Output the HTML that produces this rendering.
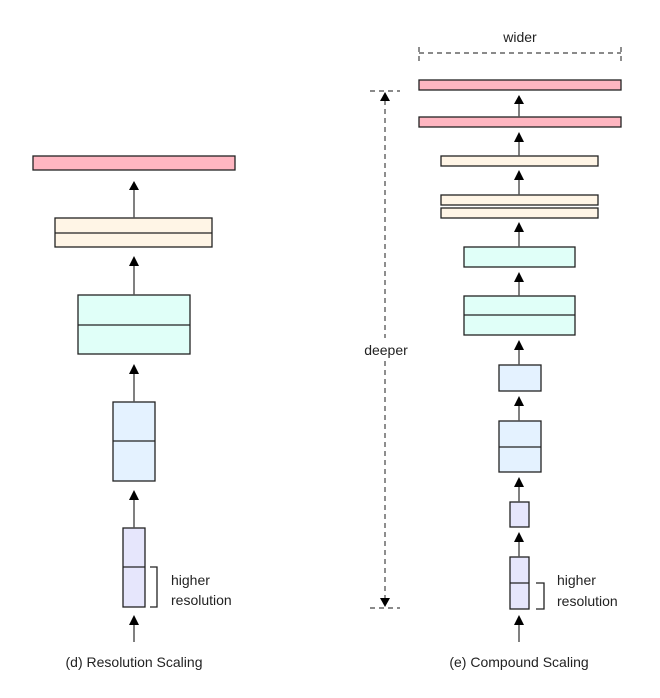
<!DOCTYPE html>
<html><head><meta charset="utf-8"><style>
html,body{margin:0;padding:0;background:#fff;}
svg{display:block;}
text{font-family:"Liberation Sans",sans-serif;fill:#222;}
</style></head><body>
<svg width="660" height="698" viewBox="0 0 660 698" xmlns="http://www.w3.org/2000/svg">
<g stroke="#222" stroke-width="1.3">
<rect x="33" y="156" width="202" height="14" fill="#ffb6c1"/>
<rect x="55" y="218" width="157" height="29" fill="#fff5e6"/>
<line x1="55" y1="233" x2="212" y2="233"/>
<rect x="78" y="295" width="112" height="59" fill="#e0fff8"/>
<line x1="78" y1="325" x2="190" y2="325"/>
<rect x="113" y="402" width="42" height="79" fill="#e4f2ff"/>
<line x1="113" y1="441" x2="155" y2="441"/>
<rect x="123" y="528" width="22" height="79" fill="#e6e6fc"/>
<line x1="123" y1="567" x2="145" y2="567"/>
<path d="M150,567 H157 V607 H150" fill="none"/>
</g>
<g stroke="#555" stroke-width="1.5">
<line x1="134" y1="218" x2="134" y2="188"/>
<line x1="134" y1="295" x2="134" y2="264"/>
<line x1="134" y1="402" x2="134" y2="372"/>
<line x1="134" y1="528" x2="134" y2="498"/>
<line x1="134" y1="642" x2="134" y2="623"/>
</g>
<g fill="#000">
<path d="M129,190 L134,181 L139,190 Z"/>
<path d="M129,266 L134,256 L139,266 Z"/>
<path d="M129,374 L134,364 L139,374 Z"/>
<path d="M129,500 L134,490 L139,500 Z"/>
<path d="M129,625 L134,615 L139,625 Z"/>
</g>
<text x="171" y="585" font-size="14">higher</text>
<text x="171" y="605" font-size="14">resolution</text>
<text x="134" y="667" font-size="14" text-anchor="middle">(d) Resolution Scaling</text>

<g stroke="#222" stroke-width="1.3">
<rect x="419" y="80" width="202" height="10" fill="#ffb6c1"/>
<rect x="419" y="117" width="202" height="10" fill="#ffb6c1"/>
<rect x="441" y="156" width="157" height="10" fill="#fff5e6"/>
<rect x="441" y="195" width="157" height="10" fill="#fff5e6"/>
<rect x="441" y="208" width="157" height="10" fill="#fff5e6"/>
<rect x="464" y="247" width="111" height="20" fill="#e0fff8"/>
<rect x="464" y="296" width="111" height="39" fill="#e0fff8"/>
<line x1="464" y1="315" x2="575" y2="315"/>
<rect x="499" y="365" width="42" height="26" fill="#e4f2ff"/>
<rect x="499" y="421" width="42" height="51" fill="#e4f2ff"/>
<line x1="499" y1="447" x2="541" y2="447"/>
<rect x="510" y="502" width="19" height="25" fill="#e6e6fc"/>
<rect x="510" y="557" width="19" height="52" fill="#e6e6fc"/>
<line x1="510" y1="583" x2="529" y2="583"/>
<path d="M536,583 H544 V609 H536" fill="none"/>
</g>
<g stroke="#555" stroke-width="1.5">
<line x1="519" y1="117" x2="519" y2="102"/>
<line x1="519" y1="156" x2="519" y2="140"/>
<line x1="519" y1="195" x2="519" y2="178"/>
<line x1="519" y1="247" x2="519" y2="230"/>
<line x1="519" y1="296" x2="519" y2="280"/>
<line x1="519" y1="365" x2="519" y2="348"/>
<line x1="519" y1="421" x2="519" y2="404"/>
<line x1="519" y1="502" x2="519" y2="485"/>
<line x1="519" y1="557" x2="519" y2="540"/>
<line x1="519" y1="642" x2="519" y2="623"/>
</g>
<g fill="#000">
<path d="M514,104 L519,95 L524,104 Z"/>
<path d="M514,142 L519,132 L524,142 Z"/>
<path d="M514,180 L519,170 L524,180 Z"/>
<path d="M514,232 L519,222 L524,232 Z"/>
<path d="M514,282 L519,272 L524,282 Z"/>
<path d="M514,350 L519,340 L524,350 Z"/>
<path d="M514,406 L519,396 L524,406 Z"/>
<path d="M514,487 L519,477 L524,487 Z"/>
<path d="M514,542 L519,532 L524,542 Z"/>
<path d="M514,625 L519,615 L524,625 Z"/>
</g>
<text x="557" y="585" font-size="14">higher</text>
<text x="557" y="606" font-size="14">resolution</text>
<text x="519" y="667" font-size="14" text-anchor="middle">(e) Compound Scaling</text>

<text x="520" y="42" font-size="14" text-anchor="middle">wider</text>
<g stroke="#444" stroke-width="1.2" stroke-dasharray="5,4" fill="none">
<line x1="419" y1="53" x2="621" y2="53"/>
<line x1="419" y1="47" x2="419" y2="62"/>
<line x1="621" y1="47" x2="621" y2="62"/>
<line x1="370" y1="91" x2="400" y2="91"/>
<line x1="370" y1="608" x2="400" y2="608"/>
<line x1="385" y1="100" x2="385" y2="599"/>
</g>
<path d="M380,101 L385,92 L390,101 Z" fill="#000"/>
<path d="M380,598 L385,607 L390,598 Z" fill="#000"/>
<rect x="358" y="338" width="56" height="22" fill="#fff"/>
<text x="386" y="355" font-size="14" text-anchor="middle">deeper</text>
</svg>
</body></html>
